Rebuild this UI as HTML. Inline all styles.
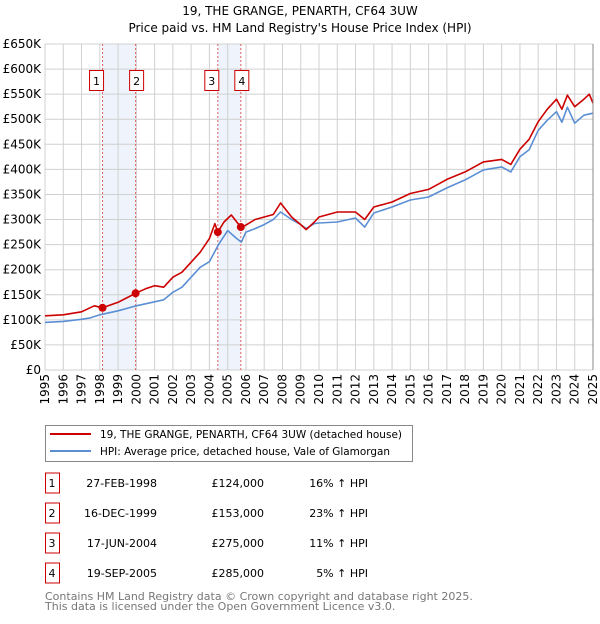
<!DOCTYPE html>
<html><head><meta charset="utf-8"><style>
body{margin:0;background:#fff;font-family:"DejaVu Sans","Liberation Sans",sans-serif;}
svg text{font-family:"DejaVu Sans","Liberation Sans",sans-serif;}
</style></head><body>
<svg id="c" width="600" height="620" viewBox="0 0 600 620" xmlns="http://www.w3.org/2000/svg">
<text x="300" y="15" text-anchor="middle" font-size="12">19, THE GRANGE, PENARTH, CF64 3UW</text>
<text x="300" y="32" text-anchor="middle" font-size="12">Price paid vs. HM Land Registry's House Price Index (HPI)</text>
<g id="plot"></g>
<g>
<rect x="45.5" y="425.5" width="367" height="36" fill="#fff" stroke="#888"/>
<line x1="50" y1="434" x2="91" y2="434" stroke="#cc0000" stroke-width="2"/>
<text x="100" y="438" font-size="10.5" textLength="302" lengthAdjust="spacingAndGlyphs">19, THE GRANGE, PENARTH, CF64 3UW (detached house)</text>
<line x1="50" y1="451" x2="91" y2="451" stroke="#5b8fd4" stroke-width="2"/>
<text x="100" y="455" font-size="10.5" textLength="290" lengthAdjust="spacingAndGlyphs">HPI: Average price, detached house, Vale of Glamorgan</text>
</g>
<g id="table"></g>
<text x="45" y="600" font-size="11" fill="#777">Contains HM Land Registry data © Crown copyright and database right 2025.</text>
<text x="45" y="610" font-size="11" fill="#777">This data is licensed under the Open Government Licence v3.0.</text>
</svg>
<script>
const yTicks=[0,50,100,150,200,250,300,350,400,450,500,550,600,650];
const yTickLabels=["£0","£50K","£100K","£150K","£200K","£250K","£300K","£350K","£400K","£450K","£500K","£550K","£600K","£650K"];
const xYears=[1995,1996,1997,1998,1999,2000,2001,2002,2003,2004,2005,2006,2007,2008,2009,2010,2011,2012,2013,2014,2015,2016,2017,2018,2019,2020,2021,2022,2023,2024,2025];
const hpiT=[1995,1996,1997,1997.5,1998,1999,2000,2000.5,2001,2001.5,2002,2002.5,2003,2003.5,2004,2004.5,2005,2005.5,2005.75,2006,2006.5,2007,2007.5,2007.9,2008.5,2009,2009.3,2009.75,2010,2011,2012,2012.5,2013,2014,2015,2016,2017,2018,2019,2020,2020.5,2021,2021.5,2022,2022.5,2023,2023.3,2023.6,2024,2024.5,2025];
const hpiV=[95,97,101,104,110,118,128,132,136,140,155,165,185,205,216,250,278,262,255,275,282,290,300,315,300,290,282,292,293,295,303,285,313,325,339,345,363,379,399,405,395,425,439,478,498,515,494,524,492,508,512];
const redT=[1995,1996,1997,1997.7,1998.15,1999,1999.96,2000.5,2001,2001.5,2002,2002.5,2003,2003.5,2004,2004.3,2004.46,2004.8,2005.2,2005.72,2006,2006.5,2007,2007.5,2007.9,2008.5,2009,2009.3,2009.75,2010,2011,2012,2012.5,2013,2014,2015,2016,2017,2018,2019,2020,2020.5,2021,2021.5,2022,2022.5,2023,2023.3,2023.6,2024,2024.5,2024.8,2025];
const redV=[108,110,116,128,124,135,153,162,168,165,185,195,215,235,262,292,275,295,309,285,289,300,305,310,333,305,290,280,295,305,315,315,300,325,335,352,360,380,395,415,420,410,440,460,495,520,540,520,548,525,540,550,532];
const saleT=[1998.15,1999.96,2004.46,2005.72];
const saleV=[124,153,275,285];
const saleLabels=["1","2","3","4"];
const saleDates=["27-FEB-1998","16-DEC-1999","17-JUN-2004","19-SEP-2005"];
const salePrices=["£124,000","£153,000","£275,000","£285,000"];
const salePct=["16% ↑ HPI","23% ↑ HPI","11% ↑ HPI","5% ↑ HPI"];
const NS="http://www.w3.org/2000/svg";
const X0=45,X1=593,Y0=370,Y1=44;
const xs=t=>X0+(t-1995)/30*(X1-X0);
const ys=v=>Y0-v/650*(Y0-Y1);
const plot=document.getElementById('plot');
function mk(tag,attrs,parent){const e=document.createElementNS(NS,tag);for(const k in attrs)e.setAttribute(k,attrs[k]);(parent||plot).appendChild(e);return e;}
for(let i=0;i<saleT.length;i+=2){
 const b=mk('rect',{x:xs(saleT[i]),y:Y1,width:xs(saleT[i+1])-xs(saleT[i]),height:Y0-Y1,fill:'#eef3fc'});
 
 
}
yTicks.forEach((v,i)=>{
 const l=mk('line',{x1:X0,x2:X1,y1:ys(v),y2:ys(v),stroke:'#d0d0d0','stroke-width':1});
 
 
 const t=mk('text',{x:X0-4,y:ys(v)+4,'text-anchor':'end','font-size':12,fill:'#000'});
 t.textContent=yTickLabels[i];
 
 
});
xYears.forEach(y=>{
 const l=mk('line',{x1:xs(y),x2:xs(y),y1:Y1,y2:Y0,stroke:'#d0d0d0','stroke-width':1});
 
 
 const tx=xs(y)+4, ty=Y0+4;
 const t=mk('text',{x:tx,y:ty,'text-anchor':'end','font-size':12,transform:'rotate(-90 '+tx+' '+ty+')'});
 t.textContent=y;
 
 
});
saleT.forEach((t,i)=>{
 const l=mk('line',{x1:xs(t),x2:xs(t),y1:Y1,y2:Y0,stroke:'#e06060','stroke-width':1,'stroke-dasharray':'2,2'});
 
 
 const bx=xs(t)+(i%2==0?-6:1)-7;
 const r=mk('rect',{x:bx,y:70.5,width:14,height:20,fill:'#fff',stroke:'#cc0000'});
 
 
 const tx=mk('text',{x:bx+7,y:85,'text-anchor':'middle','font-size':11});
 tx.textContent=saleLabels[i];
 
 
});
function line(T,V,color,name){
 const p=mk('polyline',{points:T.map((t,i)=>xs(t).toFixed(1)+','+ys(V[i]).toFixed(1)).join(' '),fill:'none',stroke:color,'stroke-width':1.6,'stroke-linejoin':'round'});
 
 
}
line(hpiT,hpiV,'#5b8fd4','hpi-line');
line(redT,redV,'#cc0000','property-price-line');
saleT.forEach((t,i)=>{
 const c=mk('circle',{cx:xs(t),cy:ys(saleV[i]),r:4,fill:'#cc0000'});
 
 
});
const ax=mk('line',{x1:X1,x2:X1,y1:Y1,y2:Y0,stroke:'#888'});


const tb=document.getElementById('table');
saleLabels.forEach((s,i)=>{
 const cy=483+i*30;
 const r=mk('rect',{x:45.5,y:cy-10,width:14,height:20,fill:'#fff',stroke:'#cc0000'},tb);
 
 
 const vals=[[s,52,'middle'],[saleDates[i],157,'end'],[salePrices[i],264,'end'],[salePct[i],368,'end']];
 vals.forEach(v=>{
  const t=mk('text',{x:v[1],y:cy+4,'text-anchor':v[2],'font-size':11},tb);
  t.textContent=v[0];
  
  
 });
});
</script>
</body></html>
